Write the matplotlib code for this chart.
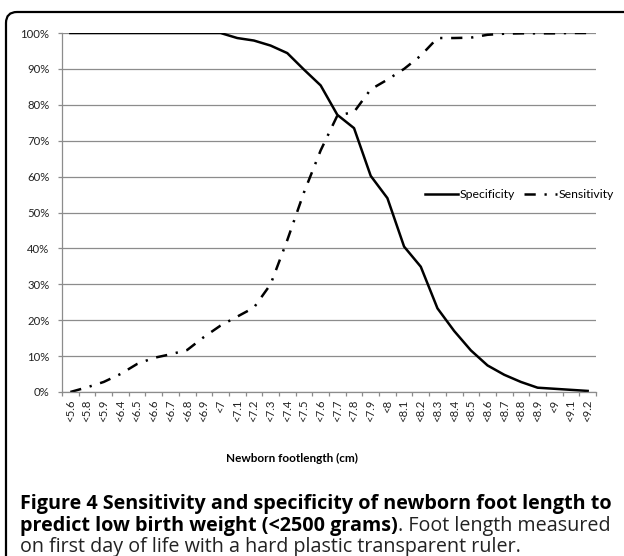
import matplotlib
matplotlib.use("Agg")
import matplotlib.pyplot as plt
from matplotlib.patches import FancyBboxPatch
from matplotlib.transforms import IdentityTransform
import numpy as np

categories = ["<5.6", "<5.8", "<5.9", "<6.4", "<6.5", "<6.6", "<6.7", "<6.8", "<6.9", "<7",
              "<7.1", "<7.2", "<7.3", "<7.4", "<7.5", "<7.6", "<7.7", "<7.8", "<7.9", "<8",
              "<8.1", "<8.2", "<8.3", "<8.4", "<8.5", "<8.6", "<8.7", "<8.8", "<8.9", "<9",
              "<9.1", "<9.2"]
specificity = [100, 100, 100, 100, 100, 100, 100, 100, 100, 100,
               98.6, 97.9, 96.5, 94.4, 89.8, 85.4, 77.2, 73.5, 60.2, 54.0,
               40.5, 34.9, 23.3, 17.0, 11.6, 7.4, 4.8, 2.8, 1.2, 0.9,
               0.6, 0.3]
sensitivity = [0, 1.3, 2.8, 5.0, 7.8, 9.5, 10.5, 11.7, 15.3, 18.5,
               21.0, 23.5, 30.0, 42.3, 55.6, 67.3, 77.0, 78.0, 84.3, 87.0,
               90.0, 93.7, 98.6, 98.6, 98.7, 99.5, 99.8, 99.9, 99.9, 99.9,
               100, 100]
yticks = [0, 10, 20, 30, 40, 50, 60, 70, 80, 90, 100]
ytick_labels = [f"{v}%" for v in yticks]

W, H = 624, 556
fig = plt.figure(figsize=(W / 100, H / 100), dpi=100)
fig.patch.set_facecolor("white")

# outer rounded border
border = FancyBboxPatch((6, -30), 660, H - 12 + 30, boxstyle="round,pad=0,rounding_size=11",
                        transform=IdentityTransform(), fill=False, edgecolor="black",
                        linewidth=1.6)
fig.patches.append(border)

left, right, top, bottom = 62, 596, 33, 392
ax = fig.add_axes([left / W, 1 - bottom / H, (right - left) / W, (bottom - top) / H])

x = np.arange(len(categories))
ax.plot(x, specificity, color="black", lw=1.8, solid_joinstyle="round", label="Specificity")
ax.plot(x, sensitivity, color="black", lw=1.8, linestyle=(0, (4.5, 3.5, 0.9, 3.5)),
        dash_capstyle="butt", label="Sensitivity")

grid_c = "#8c8c8c"
ax.set_xlim(-0.5, len(categories) - 0.5)
ax.set_ylim(0, 100)
ax.set_yticks(yticks)
ax.set_yticklabels(ytick_labels, fontsize=8.2, family="Lato", color="#222222")
ax.yaxis.grid(True, color=grid_c, lw=0.9)
ax.set_axisbelow(True)

ax.set_xticks(x)
ax.set_xticklabels(categories, rotation=90, fontsize=8.2, family="Lato", color="#222222")
ax.set_xticks(np.arange(-0.5, len(categories) - 0.4, 1), minor=True)
ax.tick_params(axis="x", which="major", length=0, pad=5.5)
ax.tick_params(axis="x", which="minor", length=3, color=grid_c, width=0.9, direction="out")
ax.tick_params(axis="y", length=3, color=grid_c, width=0.9, pad=6)

for s in ["top", "right"]:
    ax.spines[s].set_visible(False)
for s in ["left", "bottom"]:
    ax.spines[s].set_color(grid_c)
    ax.spines[s].set_linewidth(0.9)

leg = ax.legend(loc="center left", bbox_to_anchor=(425 / W, 1 - 195 / H),
                bbox_transform=fig.transFigure, ncol=2, frameon=False,
                prop={"family": "Lato", "size": 8.8}, handlelength=2.7, handletextpad=0.1,
                columnspacing=0.8, borderaxespad=0, borderpad=0)

fig.text(292 / W, 1 - 458 / H, "Newborn footlength (cm)", ha="center", va="center",
         fontsize=8.5, fontweight="bold", family="Lato")

# caption: fit the first (bold) line to the reference width
cap_font = "Open Sans"
line1 = "Figure 4 Sensitivity and specificity of newborn foot length to"
probe = fig.text(0, 0, line1, fontsize=12, fontweight="bold", family=cap_font)
fig.canvas.draw()
w = probe.get_window_extent().width
probe.remove()
cs = 12 * 593 / w

fig.text(20 / W, 1 - 504 / H, line1,
         ha="left", va="center", fontsize=cs, fontweight="bold", family=cap_font)
t = fig.text(20 / W, 1 - 526 / H, "predict low birth weight (<2500 grams)",
             ha="left", va="center", fontsize=cs, fontweight="bold", family=cap_font)
fig.canvas.draw()
bb = t.get_window_extent()
fig.text(bb.x1 / W, 1 - 526 / H, ". Foot length measured",
         ha="left", va="center", fontsize=cs, family=cap_font, color="#222222")
fig.text(20 / W, 1 - 547 / H, "on first day of life with a hard plastic transparent ruler.",
         ha="left", va="center", fontsize=cs, family=cap_font, color="#222222")

fig.savefig("out.png", dpi=100, facecolor="white")
